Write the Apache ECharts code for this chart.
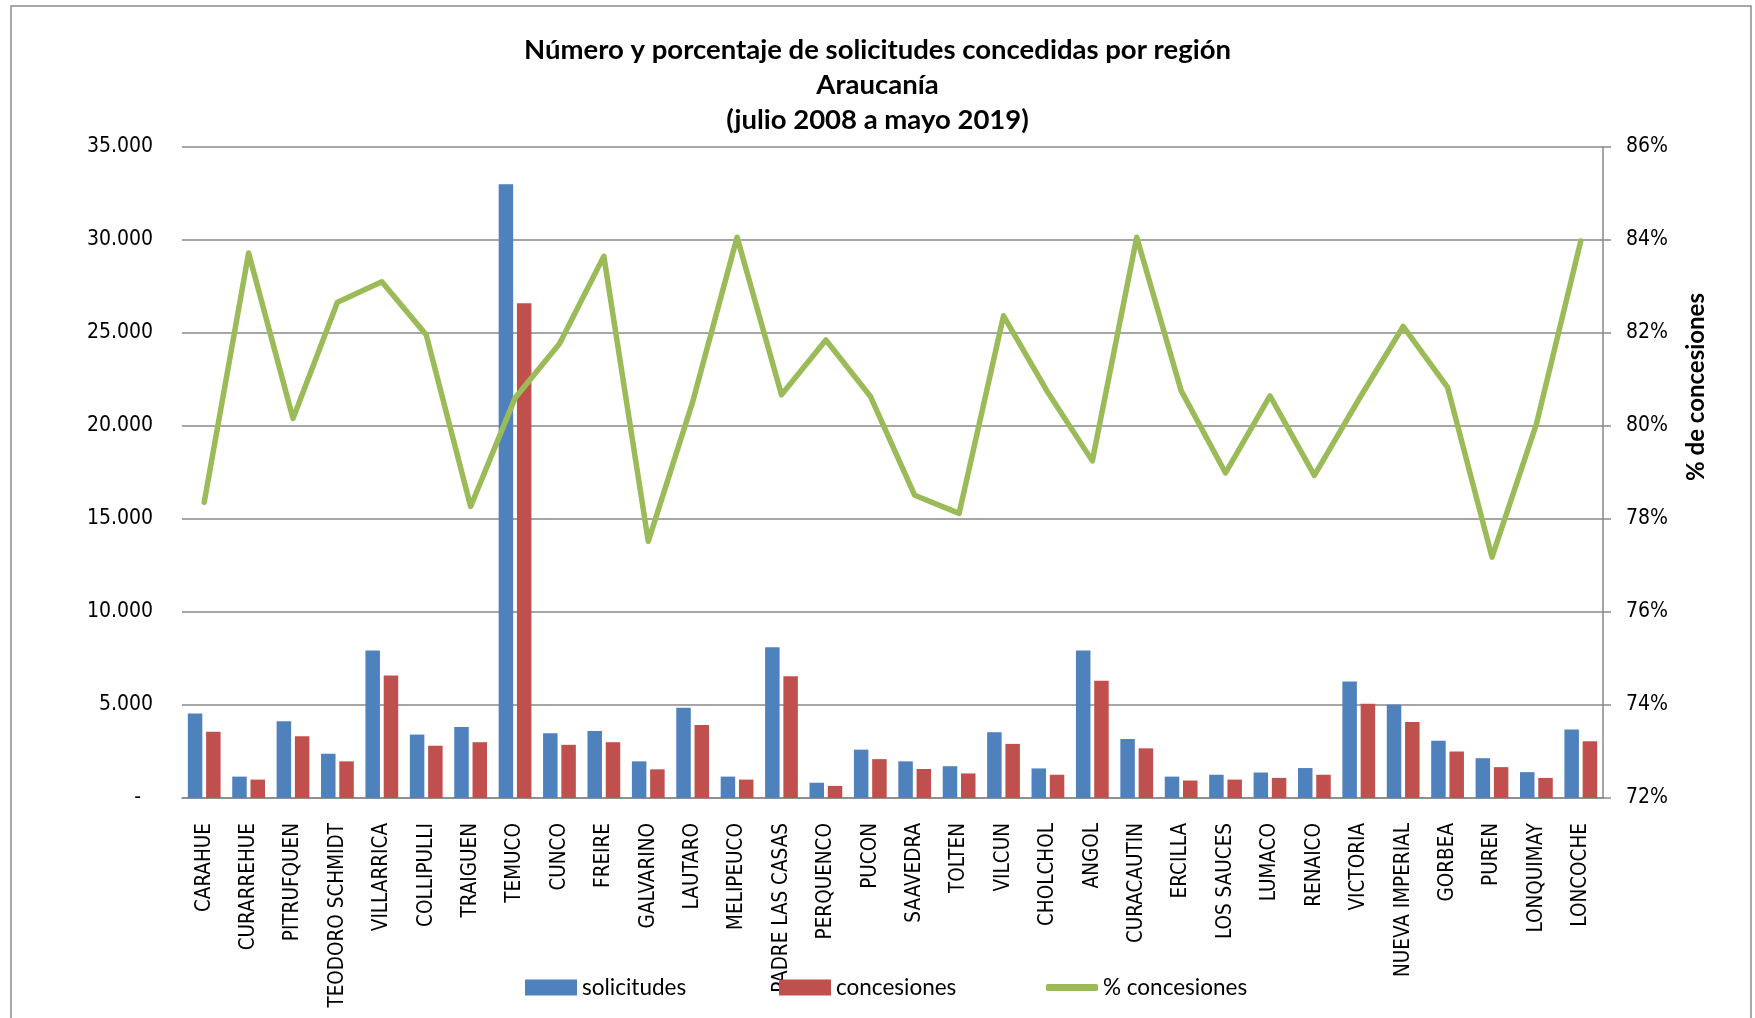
<!DOCTYPE html>
<html>
<head>
<meta charset="utf-8">
<script src="https://cdn.jsdelivr.net/npm/echarts@6/dist/echarts.min.js"></script>
<style>
html,body{margin:0;padding:0;background:#fff;}
#chart{width:1755px;height:1018px;}
</style>
</head>
<body>
<div id="chart"></div>
<script>
const titleLines = ['Número y porcentaje de solicitudes concedidas por región', 'Araucanía', '(julio 2008 a mayo 2019)'];
const categories = ['CARAHUE','CURARREHUE','PITRUFQUEN','TEODORO SCHMIDT','VILLARRICA','COLLIPULLI','TRAIGUEN','TEMUCO','CUNCO','FREIRE','GALVARINO','LAUTARO','MELIPEUCO','PADRE LAS CASAS','PERQUENCO','PUCON','SAAVEDRA','TOLTEN','VILCUN','CHOLCHOL','ANGOL','CURACAUTIN','ERCILLA','LOS SAUCES','LUMACO','RENAICO','VICTORIA','NUEVA IMPERIAL','GORBEA','PUREN','LONQUIMAY','LONCOCHE'];
const solicitudes = [4540, 1150, 4130, 2380, 7930, 3410, 3820, 33000, 3480, 3600, 1970, 4850, 1150, 8100, 820, 2600, 1970, 1710, 3530, 1590, 7930, 3170, 1150, 1250, 1370, 1610, 6270, 5020, 3080, 2140, 1390, 3680];
const concesiones = [3560, 990, 3320, 1970, 6580, 2810, 3000, 26600, 2860, 3000, 1540, 3920, 990, 6540, 650, 2090, 1560, 1320, 2910, 1250, 6300, 2670, 940, 990, 1080, 1250, 5070, 4090, 2500, 1660, 1080, 3050];
const pctConcesiones = [78.36, 83.72, 80.16, 82.66, 83.10, 81.96, 78.27, 80.60, 81.77, 83.65, 77.52, 80.52, 84.06, 80.67, 81.85, 80.64, 78.51, 78.12, 82.37, 80.72, 79.25, 84.06, 80.76, 78.99, 80.65, 78.94, 80.57, 82.14, 80.83, 77.18, 80.04, 83.98];
const seriesNames = ['solicitudes', 'concesiones', '% concesiones'];
const axisTitleRight = '% de concesiones';

function fmtThousands(v) {
  if (v === 0) return '-  ';
  return Math.round(v).toString().replace(/\B(?=(\d{3})+(?!\d))/g, '.');
}

const chart = echarts.init(document.getElementById('chart'), null, {renderer: 'canvas'});
const gridColor = '#898989';
const tickFont = "'DejaVu Sans Condensed', 'DejaVu Sans'";
const legendText = {fontFamily: 'Lato', fontSize: 22.5, color: '#000'};

chart.setOption({
  backgroundColor: '#fff',
  animation: false,
  title: {
    text: titleLines.join('\n'),
    left: 'center',
    top: 28,
    textStyle: {fontFamily: 'Lato', fontWeight: 'bold', fontSize: 27.5, lineHeight: 35, color: '#000'}
  },
  graphic: [
    {
      type: 'rect', silent: true, z: -10,
      shape: {x: 11, y: 6, width: 1740, height: 1040},
      style: {fill: 'none', stroke: '#8c8c8c', lineWidth: 1.5}
    },
    {
      type: 'text', silent: true, x: 1696, y: 387, rotation: Math.PI / 2,
      style: {text: axisTitleRight, fill: '#000', font: "bold 24px Lato", align: 'center', verticalAlign: 'middle'}
    }
  ],
  legend: [
    {data: [seriesNames[0]], left: 520, top: 971, itemWidth: 52, itemHeight: 16, icon: 'rect', textStyle: legendText},
    {data: [seriesNames[1]], left: 774, top: 971, itemWidth: 52, itemHeight: 16, icon: 'rect', textStyle: legendText},
    {data: [seriesNames[2]], left: 1041, top: 971, itemWidth: 52, itemHeight: 7, icon: 'roundRect', textStyle: legendText}
  ],
  grid: {left: 182, right: 152, top: 147, bottom: 220, containLabel: false},
  xAxis: {
    type: 'category',
    data: categories,
    axisLine: {show: true, lineStyle: {color: gridColor, width: 1.5}},
    axisTick: {show: false},
    axisLabel: {interval: 0, rotate: 90, margin: 25, fontFamily: tickFont, fontSize: 20.5, color: '#000'}
  },
  yAxis: [
    {
      type: 'value', min: 0, max: 35000, interval: 5000,
      axisLine: {show: false}, axisTick: {show: false},
      splitLine: {show: true, lineStyle: {color: gridColor, width: 1.5}},
      axisLabel: {margin: 29, fontFamily: tickFont, fontSize: 21, color: '#000', formatter: fmtThousands}
    },
    {
      type: 'value', min: 72, max: 86, interval: 2, position: 'right',
      axisLine: {show: true, lineStyle: {color: gridColor, width: 1.5}},
      axisTick: {show: true, length: 8, lineStyle: {color: gridColor, width: 1.5}},
      splitLine: {show: false},
      axisLabel: {margin: 23, fontFamily: tickFont, fontSize: 21, color: '#000', formatter: '{value}%'}
    }
  ],
  series: [
    {name: seriesNames[0], type: 'bar', yAxisIndex: 0, data: solicitudes, barWidth: 14.5, barGap: '26%',
     itemStyle: {color: '#4F81BD'}},
    {name: seriesNames[1], type: 'bar', yAxisIndex: 0, data: concesiones, barWidth: 14.5, barGap: '26%',
     itemStyle: {color: '#C0504D'}},
    {name: seriesNames[2], type: 'line', yAxisIndex: 1, data: pctConcesiones, symbol: 'none', z: 5,
     lineStyle: {color: '#9BBB59', width: 5.5, join: 'round', cap: 'round'}, itemStyle: {color: '#9BBB59'}}
  ]
});
</script>
</body>
</html>
